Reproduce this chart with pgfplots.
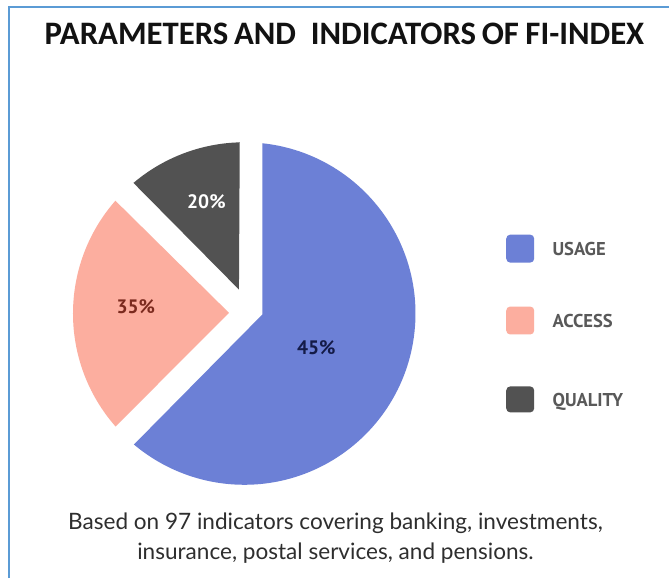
\documentclass[border=0pt]{standalone}
\usepackage{pgfplots}
\pgfplotsset{compat=1.18}
\usepackage{fontspec}
\setmainfont{Lato}
\newfontfamily\titlefont{Carlito}
\newfontfamily\ptsans{PT Sans}
\definecolor{usage}{HTML}{6C80D6}
\definecolor{access}{HTML}{FCAE9F}
\definecolor{quality}{HTML}{525252}
\definecolor{framec}{HTML}{5B9BD5}
\definecolor{legtext}{HTML}{595959}
\definecolor{accesslab}{HTML}{7B2A1E}
\definecolor{usagelab}{HTML}{141B47}
\begin{document}
\begin{tikzpicture}
\begin{axis}[scale only axis, width=335pt, height=289.5pt,
  xmin=0, xmax=670, ymin=0, ymax=579, hide axis, clip=false]
\fill[white] (axis cs:0,0) rectangle (axis cs:670,579);
\draw[framec, line width=1pt] (axis cs:9,0) -- (axis cs:9,572) -- (axis cs:670,572);
% slices: vertex, arc start point; arc angles on common circle (r = 171.5 units)
\addplot[fill=usage, draw=none] coordinates {(262.7,264) (262.65,435.55)}
  arc[start angle=83.96, end angle=-130.1, radius=85.75pt] -- cycle;
\addplot[fill=quality, draw=none] coordinates {(239.3,289) (240.11,436.44)}
  arc[start angle=91.5, end angle=130.3, radius=85.75pt] -- cycle;
\addplot[fill=access, draw=none] coordinates {(229.3,265.7) (115.56,377.97)}
  arc[start angle=138.8, end angle=221.3, radius=85.75pt] -- cycle;
% percentage labels
\node[font=\ptsans\bfseries\fontsize{9.75pt}{11pt}\selectfont, text=white, inner sep=0pt] at (axis cs:206.7,377.3) {20\%};
\node[font=\ptsans\bfseries\fontsize{9.75pt}{11pt}\selectfont, text=accesslab, inner sep=0pt] at (axis cs:136,272.3) {35\%};
\node[font=\ptsans\bfseries\fontsize{9.75pt}{11pt}\selectfont, text=usagelab, inner sep=0pt] at (axis cs:316.7,230.7) {45\%};
% title
\node[font=\titlefont\bfseries\fontsize{16.4pt}{18pt}\selectfont, text=black!93, anchor=base, inner sep=0pt] at (axis cs:345,534) {PARAMETERS\hspace{0.17em}AND\hspace{0.45em}INDICATORS\hspace{0.17em}OF\hspace{0.2em}FI-INDEX};
% legend
\fill[usage, rounded corners=2pt] (axis cs:507,316) rectangle (axis cs:535,344);
\fill[access, rounded corners=2pt] (axis cs:507,244) rectangle (axis cs:535,272);
\fill[quality, rounded corners=2pt] (axis cs:507,166) rectangle (axis cs:535,192);
\node[font=\ptsans\bfseries\fontsize{9.3pt}{11pt}\selectfont, text=legtext, anchor=base west, inner sep=0pt] at (axis cs:553,323.3) {USAGE};
\node[font=\ptsans\bfseries\fontsize{9.3pt}{11pt}\selectfont, text=legtext, anchor=base west, inner sep=0pt] at (axis cs:553,251.3) {ACCESS};
\node[font=\ptsans\bfseries\fontsize{9.3pt}{11pt}\selectfont, text=legtext, anchor=base west, inner sep=0pt] at (axis cs:553,172.3) {QUALITY};
% footer
\node[font=\fontsize{11.3pt}{13pt}\selectfont, text=black!82, anchor=base, inner sep=0pt] at (axis cs:336,49) {Based on 97 indicators covering banking, investments,};
\node[font=\fontsize{11.3pt}{13pt}\selectfont, text=black!82, anchor=base, inner sep=0pt] at (axis cs:336,19) {insurance, postal services, and pensions.};
\end{axis}
\end{tikzpicture}
\end{document}
